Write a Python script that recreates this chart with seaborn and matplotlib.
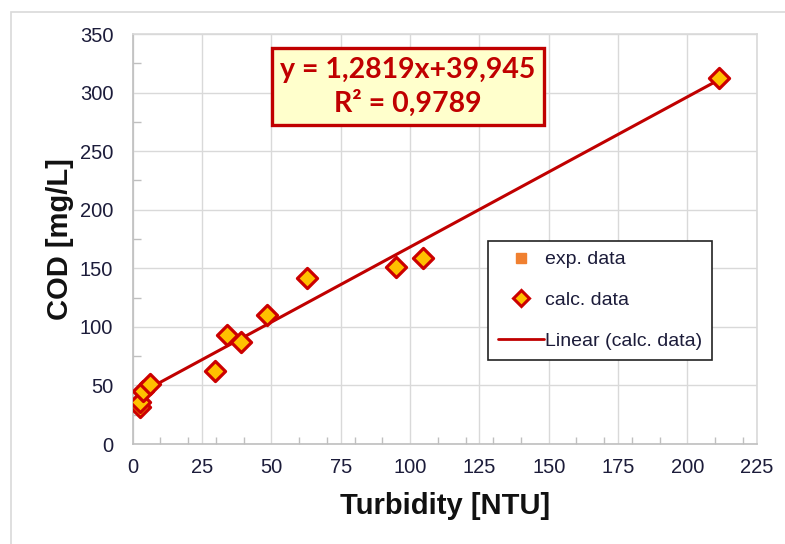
import numpy as np
import pandas as pd
import matplotlib
matplotlib.use("Agg")
import matplotlib.pyplot as plt
import seaborn as sns
from matplotlib.lines import Line2D
from matplotlib.patches import Rectangle
from matplotlib.ticker import MultipleLocator

turbidity = [2.6, 2.6, 3.8, 6.2, 29.8, 34.0, 39.0, 48.5, 63.0, 95.0, 104.5, 211.5]
cod = [31.5, 35.7, 45.6, 51.4, 62.5, 93.0, 87.5, 110.0, 142.0, 151.5, 158.5, 312.5]
slope, intercept, r2 = 1.2819, 39.945, 0.9789
x_ticks = [0, 25, 50, 75, 100, 125, 150, 175, 200, 225]
y_ticks = [0, 50, 100, 150, 200, 250, 300, 350]

df = pd.DataFrame({"Turbidity": turbidity, "COD": cod})
xf = np.array([min(turbidity), max(turbidity)])
fit = pd.DataFrame({"x": xf, "y": slope * xf + intercept})

sns.set_theme(style="white")
W, H = 785, 544
fig = plt.figure(figsize=(W / 100, H / 100), dpi=100)
ax = fig.add_axes([132.7 / W, 1 - 444 / H, (756.7 - 132.7) / W, (444 - 34) / H])

# outer chart border
fig.patches.append(Rectangle((11 / W, -0.1), 1.2, 1 - 12 / H + 0.1, transform=fig.transFigure,
                             fill=False, edgecolor="#d9d9d9", linewidth=1.2, zorder=0))

red = "#c00000"
sns.lineplot(data=fit, x="x", y="y", ax=ax, color=red, linewidth=2.2, zorder=3)
sns.scatterplot(data=df, x="Turbidity", y="COD", ax=ax, marker="D", s=105,
                color="#ffc000", edgecolor="#cc0000", linewidth=2.3, zorder=4)

ax.set_xlim(0, 225)
ax.set_ylim(0, 350)
ax.set_xticks(x_ticks)
ax.set_yticks(y_ticks)
ax.xaxis.set_minor_locator(MultipleLocator(10))
ax.yaxis.set_minor_locator(MultipleLocator(25))
ax.grid(True, which="major", color="#d9d9d9", linewidth=1)
for s in ax.spines.values():
    s.set_color("#bfbfbf")
    s.set_linewidth(1.2)
ax.spines["top"].set_color("#d9d9d9")
ax.spines["right"].set_color("#d9d9d9")
tickcol = "#1c1c3a"
tickfont = ["Liberation Sans", "DejaVu Sans"]
ax.tick_params(axis="both", which="major", length=0, labelsize=14.5, labelcolor=tickcol)
ax.tick_params(axis="x", which="major", pad=10)
ax.tick_params(axis="y", which="major", pad=14)
ax.tick_params(axis="x", which="minor", bottom=True, direction="in", length=5, color="#bfbfbf")
ax.tick_params(axis="y", which="minor", left=True, direction="in", length=6, color="#bfbfbf")
for lab in ax.get_xticklabels() + ax.get_yticklabels():
    lab.set_family(tickfont)

ax.set_xlabel("Turbidity [NTU]", fontsize=21, fontweight="bold", family=["Liberation Sans", "DejaVu Sans"],
              color="#111111", labelpad=11)
ax.set_ylabel("COD [mg/L]", fontsize=21, fontweight="bold", family=["Liberation Sans", "DejaVu Sans"],
              color="#111111", labelpad=4)

ax.text(0.441, 0.871, f"y = {str(slope).replace('.', ',')}x+{str(intercept).replace('.', ',')}\n"
        f"R\u00b2 = {str(r2).replace('.', ',')}",
        transform=ax.transAxes, ha="center", va="center", fontsize=20.5, fontweight="bold",
        color=red, family=["Lato", "Liberation Sans", "DejaVu Sans"], linespacing=1.3,
        bbox=dict(boxstyle="square,pad=0.3", facecolor="#ffffcc", edgecolor=red, linewidth=2.4), zorder=6)

handles = [
    Line2D([], [], marker="s", linestyle="none", color="#f08030", markersize=7.5),
    Line2D([], [], marker="D", linestyle="none", markerfacecolor="#ffc000",
           markeredgecolor="#cc0000", markeredgewidth=2.2, markersize=8.5),
    Line2D([], [], color=red, linewidth=2),
]
leg = ax.legend(handles, ["exp. data", "calc. data", "Linear (calc. data)"],
                loc="upper left", bbox_to_anchor=((488 - 132.7) / 624, 1 - (241 - 34) / 410),
                frameon=True, fancybox=False, edgecolor="#222222", framealpha=1,
                prop={"family": ["Liberation Sans", "DejaVu Sans"], "size": 14},
                labelspacing=1.2, handlelength=2.4, handletextpad=0.05, borderpad=0.5, borderaxespad=0)
leg.get_frame().set_linewidth(1.2)
for t in leg.get_texts():
    t.set_color("#1c1c3a")

fig.savefig("out.png", dpi=100)
